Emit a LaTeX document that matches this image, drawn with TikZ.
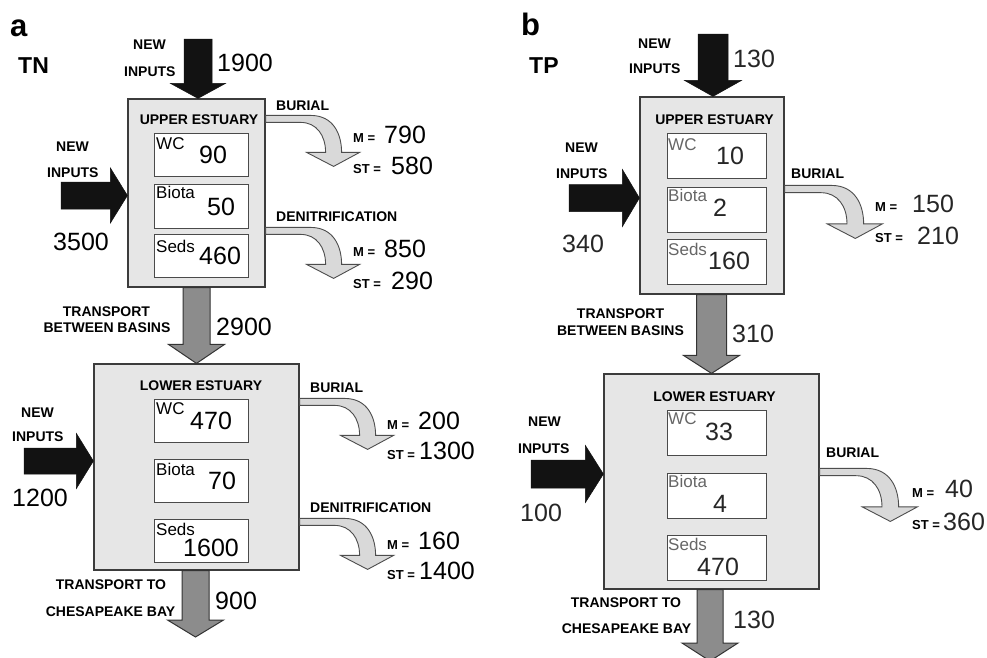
\documentclass[tikz,border=0pt]{standalone}
\usepackage{fontspec}
\setmainfont{Liberation Sans}
\usetikzlibrary{calc}
\newcommand\fsz[1]{\fontsize{#1}{#1}\selectfont}
\definecolor{boxfill}{HTML}{E6E6E6}
\definecolor{boxline}{HTML}{3C3C3C}
\definecolor{inline}{HTML}{4A4A4A}
\definecolor{grayfill}{HTML}{8C8C8C}
\definecolor{bendfill}{HTML}{D9D9D9}
\definecolor{bendline}{HTML}{4D4D4D}
\definecolor{softtext}{HTML}{666666}
\newcommand\arrdown[6]{%
  \path[#1] let \p1=(#2), \p2=(#3) in
    (\x2-#4pt,\y1) -- (\x2+#4pt,\y1) -- (\x2+#4pt,\y2+#6pt) -- (\x2+#5pt,\y2+#6pt)
    -- (\x2,\y2) -- (\x2-#5pt,\y2+#6pt) -- (\x2-#4pt,\y2+#6pt) -- cycle;}
\newcommand\arrright[6]{%
  \path[#1] let \p1=(#2), \p2=(#3) in
    (\x1,\y2+#4pt) -- (\x2-#6pt,\y2+#4pt) -- (\x2-#6pt,\y2+#5pt) -- (\x2,\y2)
    -- (\x2-#6pt,\y2-#5pt) -- (\x2-#6pt,\y2-#4pt) -- (\x1,\y2-#4pt) -- cycle;}
\tikzset{
  outerbox/.style={draw=boxline, fill=boxfill, line width=1.2pt, inner sep=0},
  innerbox/.style={draw=inline, fill=white, line width=1pt, inner sep=0},
  blackarr/.style={fill=black!93, draw=black!93, line width=0.5pt},
  grayarr/.style={fill=grayfill, draw=black!80, line width=1pt},
  bendstyle/.style={fill=bendfill, draw=bendline, line width=0.9pt},
  bend/.pic={\path[bendstyle] (0,0) -- (45,0) .. controls (68,0) and (76,19) .. (76,37)
     -- (94,37) -- (68,51) -- (41,37) -- (60,37) .. controls (60,20) and (51,7) .. (35,7)
     -- (0,7) -- cycle;},
  lbl/.style={font={\fsz{14}\bfseries}, inner sep=0, anchor=west},
  clbl/.style={font={\fsz{14}\bfseries}, inner sep=0, anchor=center},
  num/.style={font={\fsz{25}}, inner sep=0, anchor=west},
  sm/.style={font={\fsz{13}\bfseries}, inner sep=0, anchor=west},
  cmp/.style={font={\fsz{17}}, inner sep=0, anchor=west},
  panel/.style={font={\fsz{31}\bfseries}, inner sep=0, anchor=west},
  elem/.style={font={\fsz{23}\bfseries}, inner sep=0, anchor=west},
}
\begin{document}
\begin{tikzpicture}[x=1pt,y=-1pt]
\useasboundingbox (0,0) rectangle (987,657);
\fill[white] (0,0) rectangle (987,657);

% ================= panel a =================
\node[panel] (pa) at (10,28.5) {a};
\node[elem] (tn) at (18,65.5) {TN};

\node[outerbox, minimum width=137, minimum height=188] (UEa) at (196.5,193) {};
\node[innerbox, minimum width=94, minimum height=43] (wca) at (201,154.5) {};
\node[innerbox, minimum width=94, minimum height=44] (bia) at (201,206) {};
\node[innerbox, minimum width=94, minimum height=43] (sea) at (201,255.5) {};
\node[clbl] (uea) at (199,120) {UPPER ESTUARY};
\node[cmp] at (156,144) {WC};
\node[num] at (199,155) {90};
\node[cmp] at (156,192) {Biota};
\node[num] at (207,206.5) {50};
\node[cmp] at (156,246) {Seds};
\node[num] at (199,256) {460};

\node[outerbox, minimum width=205, minimum height=206] (LEa) at (196.5,467) {};
\node[innerbox, minimum width=94, minimum height=43] (wcb) at (201,420.5) {};
\node[innerbox, minimum width=94, minimum height=43] (bib) at (201,480.5) {};
\node[innerbox, minimum width=94, minimum height=43] (seb) at (201,540.5) {};
\node[clbl] (lea) at (201,386) {LOWER ESTUARY};
\node[cmp] at (156,409) {WC};
\node[num] at (190,421) {470};
\node[cmp] at (156,469) {Biota};
\node[num] at (208,481) {70};
\node[cmp] at (156,529) {Seds};
\node[num] at (183,548) {1600};

% arrows a
\coordinate (ta) at (198,39);
\arrdown{blackarr}{ta}{ta |- UEa.north}{14}{27.5}{15}
\arrdown{grayarr}{UEa.south}{LEa.north}{13.5}{28}{19}
\coordinate (cha) at (195.5,637);
\arrdown{grayarr}{LEa.south}{cha}{13.5}{28}{17}
\coordinate (la1) at (61,195.5);
\arrright{blackarr}{la1}{la1 -| UEa.west}{13.5}{27.5}{17}
\coordinate (la2) at (24,461);
\arrright{blackarr}{la2}{la2 -| LEa.west}{13}{27.5}{17}

\pic at ($(UEa.north east)+(0,17)$) {bend};
\pic at ($(UEa.north east)+(0,129)$) {bend};
\pic at ($(LEa.north east)+(0,35)$) {bend};
\pic at ($(LEa.north east)+(0,155)$) {bend};

% labels a
\node[lbl] at (133,45) {NEW};
\node[lbl] at (124,71.5) {INPUTS};
\node[num] at (217,62.5) {1900};
\node[lbl] at (56,146.5) {NEW};
\node[lbl] at (47,172.5) {INPUTS};
\node[num] at (53,241.5) {3500};
\node[lbl] at (276,105.5) {BURIAL};
\node[sm] at (353,138) {M =};
\node[num] at (384,135) {790};
\node[sm] at (353,169) {ST =};
\node[num] at (391,166) {580};
\node[lbl] at (276,216.5) {DENITRIFICATION};
\node[sm] at (353,252.5) {M =};
\node[num] at (384,249) {850};
\node[sm] at (353,284) {ST =};
\node[num] at (391,280.5) {290};
\node[clbl] at (106.5,311.5) {TRANSPORT};
\node[clbl] at (107,327.5) {BETWEEN BASINS};
\node[num] at (216,327) {2900};
\node[lbl] at (21,412.5) {NEW};
\node[lbl] at (12,436.5) {INPUTS};
\node[num] at (12,497.5) {1200};
\node[lbl] at (310,387.5) {BURIAL};
\node[sm] at (387,425) {M =};
\node[num] at (418,421) {200};
\node[sm] at (387,455.5) {ST =};
\node[num] at (419,451) {1300};
\node[lbl] at (310,508) {DENITRIFICATION};
\node[sm] at (387,545) {M =};
\node[num] at (418,541) {160};
\node[sm] at (387,575.5) {ST =};
\node[num] at (419,571) {1400};
\node[clbl] at (111,585) {TRANSPORT TO};
\node[clbl] at (110.5,611.5) {CHESAPEAKE BAY};
\node[num] at (215,601) {900};

% ================= panel b =================
\node[panel] (pb) at (521,24.5) {b};
\node[elem] (tp) at (529,65.5) {TP};

\node[outerbox, minimum width=144, minimum height=197] (UEb) at (712,195.5) {};
\node[innerbox, minimum width=99, minimum height=45] (wcc) at (716.5,155.5) {};
\node[innerbox, minimum width=99, minimum height=45] (bic) at (716.5,209.5) {};
\node[innerbox, minimum width=99, minimum height=45] (sec) at (716.5,261.5) {};
\node[clbl] (ueb) at (714.5,119.5) {UPPER ESTUARY};
\node[cmp, text=softtext] at (668,144.5) {WC};
\node[num, text=black!85] at (716,155.5) {10};
\node[cmp, text=softtext] at (668,195) {Biota};
\node[num, text=black!85] at (713,208) {2};
\node[cmp, text=softtext] at (668,249) {Seds};
\node[num, text=black!85] at (708,261) {160};

\node[outerbox, minimum width=215, minimum height=215] (LEb) at (711.5,481.5) {};
\node[innerbox, minimum width=99, minimum height=45] (wcd) at (716.5,432.5) {};
\node[innerbox, minimum width=99, minimum height=45] (bid) at (716.5,495.5) {};
\node[innerbox, minimum width=99, minimum height=45] (sed) at (716.5,557.5) {};
\node[clbl] (leb) at (714.5,397) {LOWER ESTUARY};
\node[cmp, text=softtext] at (668,418.5) {WC};
\node[num, text=black!85] at (705,432) {33};
\node[cmp, text=softtext] at (668,481.5) {Biota};
\node[num, text=black!85] at (713,504) {4};
\node[cmp, text=softtext] at (668,544) {Seds};
\node[num, text=black!85] at (697,567) {470};

% arrows b
\coordinate (tb) at (713,34);
\arrdown{blackarr}{tb}{tb |- UEb.north}{15}{28.5}{16}
\arrdown{grayarr}{UEb.south}{LEb.north}{15}{28}{18}
\coordinate (chb) at (710,661);
\arrdown{grayarr}{LEb.south}{chb}{13}{28}{18}
\coordinate (lb1) at (569,198);
\arrright{blackarr}{lb1}{lb1 -| UEb.west}{13.5}{28.5}{17}
\coordinate (lb2) at (531,474);
\arrright{blackarr}{lb2}{lb2 -| LEb.west}{14}{28.5}{18}

\pic[scale=1.04] at ($(UEb.north east)+(0,89)$) {bend};
\pic[scale=1.04] at ($(LEb.north east)+(0,95)$) {bend};

% labels b
\node[lbl] at (638,44) {NEW};
\node[lbl] at (629,69) {INPUTS};
\node[num, text=black!85] at (733,58.5) {130};
\node[lbl] at (565,148) {NEW};
\node[lbl] at (556,173.5) {INPUTS};
\node[num, text=black!85] at (562,244) {340};
\node[lbl] at (791,173.5) {BURIAL};
\node[sm] at (875,207) {M =};
\node[num, text=black!85] at (912,203.5) {150};
\node[sm] at (875,238.5) {ST =};
\node[num, text=black!85] at (917,236) {210};
\node[clbl] at (620.5,314) {TRANSPORT};
\node[clbl] at (620.5,331) {BETWEEN BASINS};
\node[num, text=black!85] at (732,334) {310};
\node[lbl] at (528,422) {NEW};
\node[lbl] at (518,448.5) {INPUTS};
\node[num, text=black!85] at (520,512.5) {100};
\node[lbl] at (826,453) {BURIAL};
\node[sm] at (912,493) {M =};
\node[num, text=black!85] at (945,489) {40};
\node[sm] at (912,525.5) {ST =};
\node[num, text=black!85] at (943,522) {360};
\node[clbl] at (626,602.5) {TRANSPORT TO};
\node[clbl] at (626.5,629) {CHESAPEAKE BAY};
\node[num, text=black!85] at (733,620) {130};
\end{tikzpicture}
\end{document}
